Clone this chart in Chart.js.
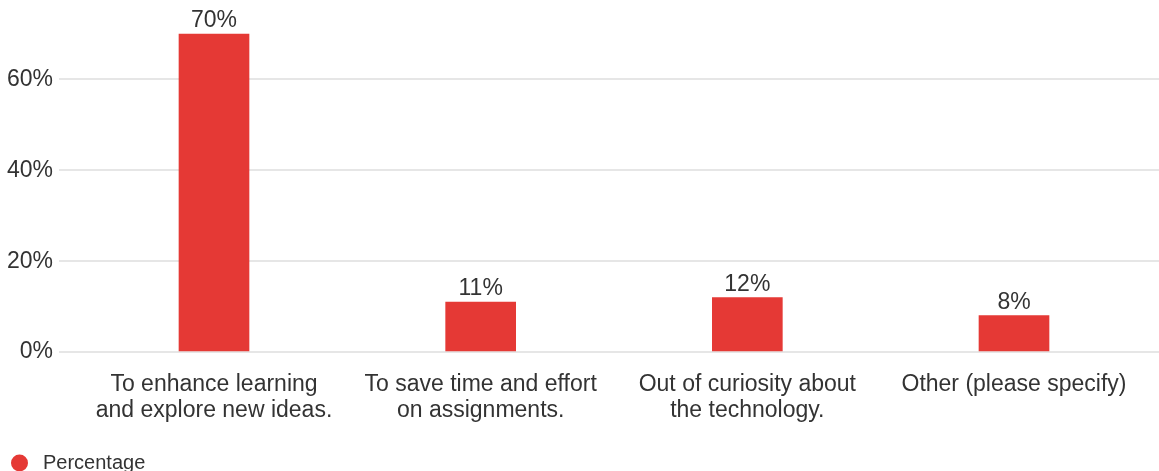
<!DOCTYPE html>
<html>
<head>
<meta charset="utf-8">
<script src="https://cdn.jsdelivr.net/npm/chart.js@4/dist/chart.umd.min.js"></script>
<style>
  html, body { margin: 0; padding: 0; background: #ffffff; }
  #wrap { width: 1159px; height: 471px; position: relative; }
</style>
</head>
<body>
<div id="wrap"><canvas id="c"></canvas></div>
<script>
const categories = [
  ["To enhance learning", "and explore new ideas."],
  ["To save time and effort", "on assignments."],
  ["Out of curiosity about", "the technology."],
  ["Other (please specify)"]
];
const percentages = [70, 11, 12, 8];
const seriesName = "Percentage";
const yTicks = [0, 20, 40, 60];

const barColor = "#e53935";
const textColor = "#333333";
const fontFamily = "'Liberation Sans', Arial, sans-serif";

const points = percentages.map((v, i) => ({ x: i, y: v }));

// legend glyph: a filled circle placed at the left of a small canvas
const legendDot = document.createElement("canvas");
legendDot.width = 22; legendDot.height = 18;
(function () {
  const g = legendDot.getContext("2d");
  g.fillStyle = barColor;
  g.beginPath();
  g.arc(8.5, 9, 8.5, 0, Math.PI * 2);
  g.fill();
})();

const valueLabels = {
  id: "valueLabels",
  afterDatasetsDraw(chart) {
    const ctx = chart.ctx;
    const meta = chart.getDatasetMeta(0);
    ctx.save();
    ctx.font = "23px " + fontFamily;
    ctx.fillStyle = textColor;
    ctx.textAlign = "center";
    ctx.textBaseline = "alphabetic";
    meta.data.forEach((bar, i) => {
      ctx.fillText(percentages[i] + "%", bar.x, bar.y - 7);
    });
    ctx.restore();
  }
};

new Chart(document.getElementById("c"), {
  type: "bar",
  data: {
    datasets: [{
      label: seriesName,
      data: points,
      backgroundColor: barColor,
      borderWidth: 0,
      barThickness: 70,
      pointStyle: legendDot
    }]
  },
  options: {
    responsive: true,
    maintainAspectRatio: false,
    animation: false,
    layout: { padding: { top: 0, right: 0, bottom: -12, left: 0 } },
    plugins: {
      tooltip: { enabled: false },
      legend: {
        position: "bottom",
        align: "start",
        labels: {
          usePointStyle: true,
          pointStyle: legendDot,
          pointStyleWidth: 22,
          boxHeight: 12,
          color: textColor,
          font: { size: 20, family: fontFamily },
          padding: 11
        }
      }
    },
    scales: {
      x: {
        type: "linear",
        offset: false,
        min: -0.58125,
        max: 3.54375,
        afterFit: (s) => { s.height += 6; s.paddingLeft = 0; s.paddingRight = 0; },
        grid: { display: false, offset: false },
        border: { display: false },
        ticks: {
          stepSize: 1,
          includeBounds: false,
          autoSkip: false,
          maxRotation: 0,
          padding: 12,
          color: textColor,
          font: { size: 23, family: fontFamily, lineHeight: 1.13 },
          callback: (v) => (Number.isInteger(v) && categories[v]) ? categories[v] : ""
        }
      },
      y: {
        min: 0,
        max: 77.5,
        afterFit: (s) => { s.width = 59; s.paddingTop = 0; s.paddingBottom = 0; },
        afterBuildTicks: (s) => { s.ticks = yTicks.map(v => ({ value: v })); },
        grid: { color: "#e6e6e6", lineWidth: 2, drawTicks: false },
        border: { display: false },
        ticks: {
          padding: 6,
          color: textColor,
          font: { size: 23, family: fontFamily },
          callback: (v) => v + "%"
        }
      }
    }
  },
  plugins: [valueLabels]
});
</script>
</body>
</html>
